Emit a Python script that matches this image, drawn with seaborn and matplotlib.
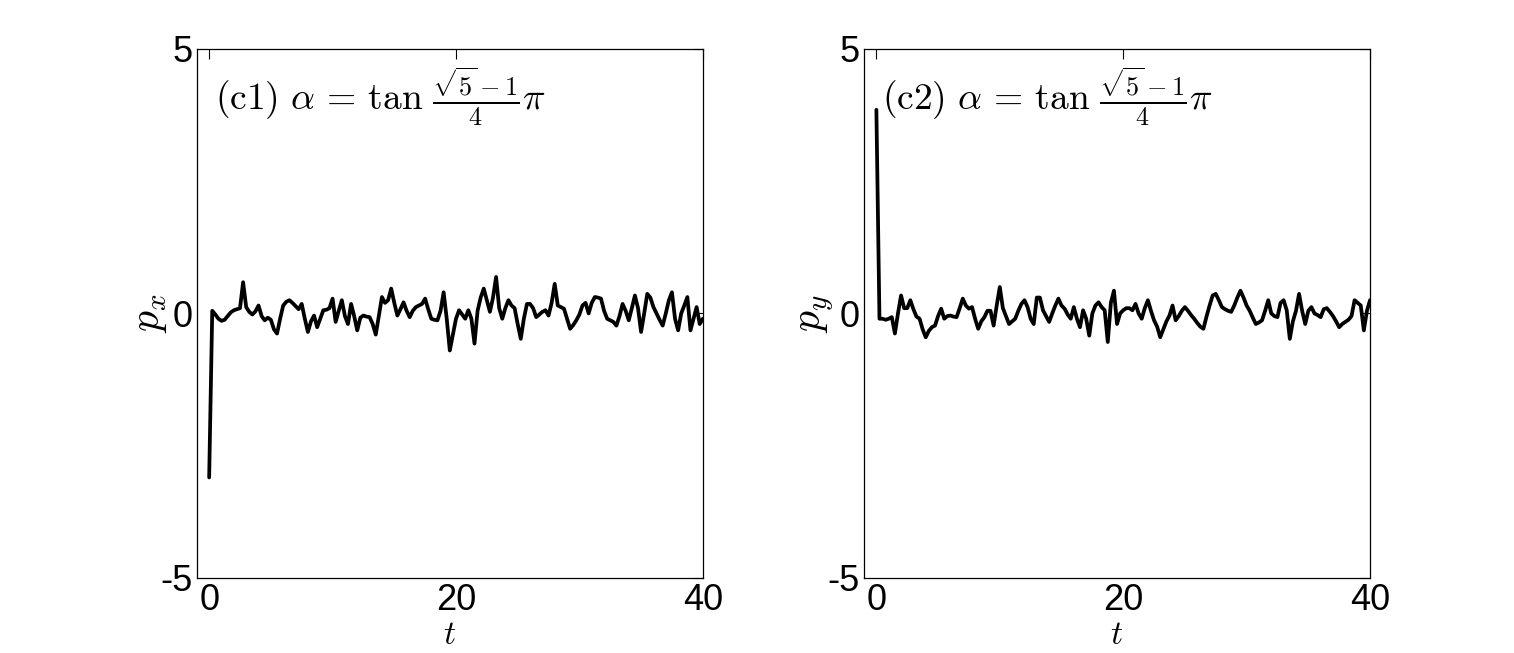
import numpy as np
import pandas as pd
import seaborn as sns
import matplotlib
matplotlib.use("Agg")
import matplotlib.pyplot as plt

# time grid (step 0.25 from 0 to 40)
t = np.linspace(0, 40, 161)

# p_x values (c1)
px = [-3.1, 0.05, -0.02, -0.1, -0.14, -0.12, -0.05, 0.02,
      0.06, 0.08, 0.1, 0.59, 0.12, 0.03, -0.02, 0.04,
      0.15, -0.05, -0.13, -0.08, -0.12, -0.3, -0.38, -0.1,
      0.15, 0.22, 0.25, 0.2, 0.14, 0.08, 0.18, -0.1,
      -0.35, -0.15, -0.04, -0.26, -0.1, 0.06, 0.07, 0.1,
      0.28, -0.16, 0.05, 0.25, -0.05, -0.2, 0.18, -0.05,
      -0.32, -0.08, -0.04, -0.06, -0.07, -0.2, -0.4, -0.05,
      0.31, 0.2, 0.25, 0.47, 0.2, -0.04, 0.08, 0.21,
      0.05, -0.07, 0.05, 0.12, 0.15, 0.18, 0.28, 0.08,
      -0.1, -0.12, -0.13, 0.05, 0.4, -0.1, -0.7, -0.4,
      -0.1, 0.06, -0.02, -0.1, 0.06, -0.1, -0.57, 0.05,
      0.3, 0.47, 0.25, 0.03, 0.3, 0.69, 0.1, -0.1,
      0.1, 0.25, 0.15, 0.1, -0.2, -0.48, -0.1, 0.18,
      0.18, 0.1, -0.07, -0.02, 0.03, 0.06, -0.04, 0.2,
      0.56, 0.15, 0.12, 0.09, -0.1, -0.29, -0.22, -0.13,
      -0.02, 0.15, 0.2, 0.0, 0.2, 0.31, 0.3, 0.28,
      0.05, -0.1, -0.13, -0.16, -0.23, -0.05, 0.18, 0.05,
      -0.13, 0.1, 0.34, 0.1, -0.35, 0.0, 0.37, 0.3,
      0.12, 0.0, -0.12, -0.23, 0.0, 0.25, 0.4, -0.1,
      -0.32, 0.0, 0.15, 0.31, -0.32, -0.1, 0.12, -0.2,
      -0.1]

# p_y values (c2)
py = [3.85, -0.1, -0.1, -0.12, -0.1, -0.07, -0.38, 0.0,
      0.34, 0.1, 0.1, 0.25, 0.08, -0.06, -0.1, -0.3,
      -0.45, -0.33, -0.26, -0.23, -0.05, 0.09, -0.1, -0.05,
      -0.04, -0.06, -0.07, 0.1, 0.28, 0.15, 0.09, 0.12,
      -0.1, -0.29, -0.15, -0.07, 0.05, 0.05, -0.23, 0.15,
      0.5, 0.1, -0.05, -0.2, -0.15, -0.1, 0.05, 0.18,
      0.25, 0.12, -0.1, -0.2, 0.3, 0.3, 0.06, -0.05,
      -0.16, 0.0, 0.15, 0.28, 0.15, 0.09, -0.02, -0.1,
      0.12, -0.1, -0.26, 0.06, -0.1, -0.42, 0.0, 0.15,
      0.21, 0.12, 0.06, -0.54, 0.2, 0.43, -0.2, 0.0,
      0.06, 0.1, 0.1, 0.06, 0.18, 0.0, -0.1, 0.1,
      0.25, 0.05, -0.13, -0.25, -0.45, -0.3, -0.15, -0.04,
      0.15, -0.13, -0.05, 0.05, 0.12, 0.05, -0.03, -0.1,
      -0.18, -0.25, -0.29, -0.06, 0.15, 0.34, 0.37, 0.25,
      0.12, 0.08, 0.05, 0.03, 0.15, 0.3, 0.43, 0.3,
      0.15, 0.05, -0.08, -0.2, -0.17, -0.13, 0.05, 0.25,
      0.0, -0.05, -0.07, 0.2, 0.25, 0.06, -0.48, -0.15,
      0.05, 0.37, 0.05, -0.2, 0.05, 0.12, 0.0, -0.03,
      -0.07, 0.08, 0.1, 0.03, -0.05, -0.15, -0.26, -0.2,
      -0.16, -0.12, -0.05, 0.25, 0.2, 0.15, -0.32, 0.05,
      0.25]

panel_titles = [r"$\mathrm{(c1)}\ \alpha\,=\,\tan\,\frac{\sqrt{5}-1}{4}\pi$",
                r"$\mathrm{(c2)}\ \alpha\,=\,\tan\,\frac{\sqrt{5}-1}{4}\pi$"]
ylabels = [r"$p_x$", r"$p_y$"]
xticks = [0, 20, 40]
yticks = [-5, 0, 5]

sns.set_style("white")
plt.rcParams['font.family'] = ['Liberation Sans', 'DejaVu Sans']
plt.rcParams['mathtext.fontset'] = 'cm'
plt.rcParams['axes.unicode_minus'] = False
plt.rcParams['text.color'] = 'black'
plt.rcParams['axes.labelcolor'] = 'black'
plt.rcParams['xtick.color'] = 'black'
plt.rcParams['ytick.color'] = 'black'

fig = plt.figure(figsize=(15.14, 6.53), dpi=100)
axes = [fig.add_axes([0.130, 0.115, 0.3342, 0.810]),
        fig.add_axes([0.5707, 0.115, 0.3342, 0.810])]

for ax, vals, ttl, yl in zip(axes, [px, py], panel_titles, ylabels):
    df = pd.DataFrame({"t": t, "p": vals})
    sns.lineplot(data=df, x="t", y="p", ax=ax, color="black", linewidth=2.7)
    ax.set_xlim(-1, 40)
    ax.set_ylim(-5, 5)
    ax.set_xticks(xticks)
    ax.set_yticks(yticks)
    ax.tick_params(direction="in", length=7, width=0.8, top=True, right=True,
                   labelsize=26)
    ax.tick_params(axis="x", pad=4)
    ax.tick_params(axis="y", pad=3)
    for sp in ax.spines.values():
        sp.set_linewidth(0.9)
        sp.set_color("black")
    ax.set_xlabel(r"$t$", fontsize=24, labelpad=1)
    ax.set_ylabel(yl, fontsize=30, labelpad=-6)
    ax.text(0.035, 0.97, ttl, transform=ax.transAxes, fontsize=27,
            ha="left", va="top")

fig.savefig("out.png", dpi=100)
